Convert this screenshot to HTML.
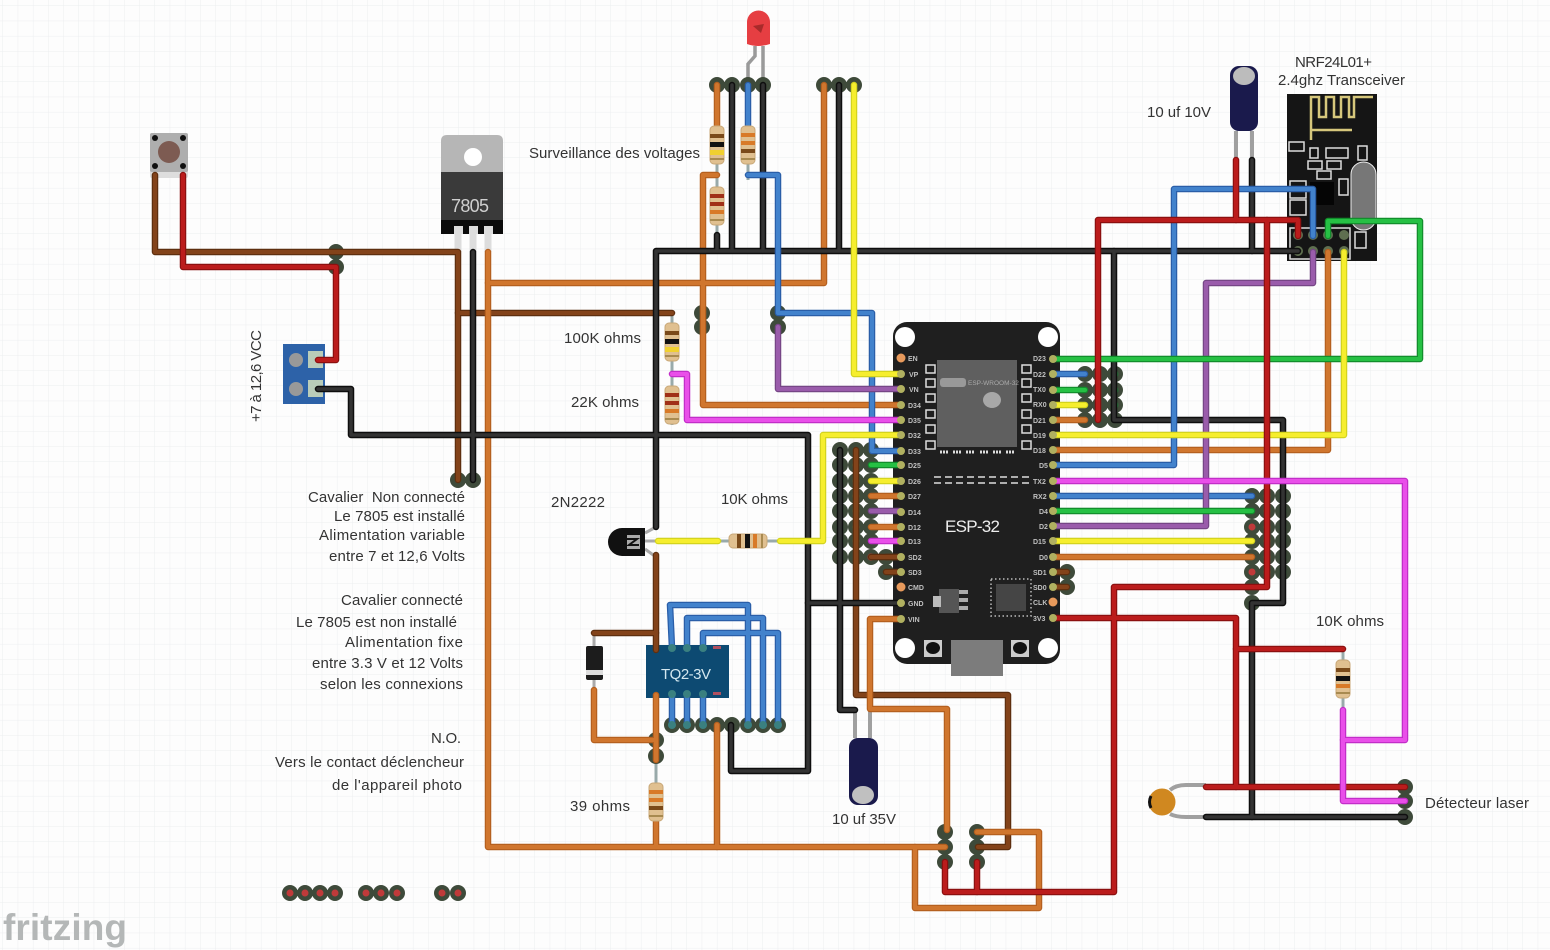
<!DOCTYPE html>
<html lang="fr"><head><meta charset="utf-8"><title>Fritzing ESP-32</title>
<style>
html,body{margin:0;padding:0;background:#fdfdfd}
svg{display:block}
text{font-family:"Liberation Sans",sans-serif;fill:#333;font-size:15px}
.pin text{font-size:7px;font-weight:bold;fill:#c0c0c0}
.dots{fill:none;stroke-linecap:round}
</style></head><body>
<svg width="1550" height="950" viewBox="0 0 1550 950" xmlns="http://www.w3.org/2000/svg">
<defs>
<pattern id="g" width="15.2" height="15.2" patternUnits="userSpaceOnUse" x="3" y="6"><path d="M15.2 0V15.2M0 15.2H15.2" fill="none" stroke="#eceef0" stroke-width="1"/></pattern>
<g id="brown"><path d="M155 175V252H458V480"/><path d="M458 313H672"/><path d="M856 450V695H1008V847H978"/><path d="M656 555V650"/><path d="M594 633H656"/><path d="M871 557H900"/><path d="M886 557H900"/><path d="M886 572H900"/><path d="M1055 572H1067"/><path d="M1055 587H1067"/></g>
<g id="red"><path d="M183 175V267H336V360H318"/><path d="M1098 420V220H1298V236"/><path d="M1236 160V220"/><path d="M1267 220V587H1114V892H945V862"/><path d="M977 862V892"/><path d="M1055 618H1236V787"/><path d="M1236 649H1343"/><path d="M1206 787H1405"/></g>
<g id="black"><path d="M318 389H351V435H808V771H731V725"/><path d="M473 252V480"/><path d="M656 527V251H1298"/><path d="M717 235V250"/><path d="M732 85V250"/><path d="M763 85V250"/><path d="M839 85V250"/><path d="M808 603H900"/><path d="M840 450V710H855"/><path d="M1252 160V251"/><path d="M1114 251V420H1283V603H1252V817"/><path d="M1206 817H1405"/></g>
<g id="orange"><path d="M488 252V847H945"/><path d="M488 283H824V85"/><path d="M717 85V125"/><path d="M717 175H703V405H900"/><path d="M900 619H870V709H947V830"/><path d="M594 690V740H656"/><path d="M656 695V760"/><path d="M717 725V847"/><path d="M656 815V847"/><path d="M977 832H1039V908H915V847"/><path d="M1055 420H1085"/><path d="M1055 450H1328V252"/><path d="M1055 557H1252"/><path d="M871 496H900"/><path d="M871 527H900"/></g>
<g id="blue"><path d="M748 85V125"/><path d="M748 175H778V313H872V451H900"/><path d="M672 648L670 605H748V725"/><path d="M687 648V618H763V725"/><path d="M703 648V633H778V725"/><path d="M672 695V725"/><path d="M687 695V725"/><path d="M703 695V725"/><path d="M1055 374H1085"/><path d="M1055 465H1174V189H1313V236"/><path d="M1055 496H1252"/></g>
<g id="green"><path d="M1055 359H1420V221H1328V236"/><path d="M1055 390H1085"/><path d="M1055 511H1252"/><path d="M871 465H900"/></g>
<g id="yellow"><path d="M854 85V374H900"/><path d="M658 541H718"/><path d="M780 541H823V435H900"/><path d="M1055 405H1085"/><path d="M1055 435H1344V252"/><path d="M1055 541H1252"/><path d="M871 481H900"/></g>
<g id="magenta"><path d="M672 374H687V420H900"/><path d="M1055 481H1405V740H1343"/><path d="M1343 710V801H1405"/><path d="M871 541H900"/></g>
<g id="purple"><path d="M778 327V389H900"/><path d="M1055 526H1206V283H1313V252"/><path d="M871 511H900"/></g>
<g id="res"><rect x="-7" y="-19" width="14" height="38" rx="4" fill="#e0c090" stroke="#c9a878"/><rect x="-7" y="-11" width="14" height="4" fill="#7a4a1a"/><rect x="-7" y="-3" width="14" height="5" fill="#111"/><rect x="-7" y="5" width="14" height="4" fill="#d87a28"/><rect x="-7" y="13" width="14" height="2" fill="#a88a50"/></g>
<g id="resy"><rect x="-7" y="-19" width="14" height="38" rx="4" fill="#e0c090" stroke="#c9a878"/><rect x="-7" y="-11" width="14" height="4" fill="#7a4a1a"/><rect x="-7" y="-3" width="14" height="5" fill="#111"/><rect x="-7" y="5" width="14" height="5" fill="#f0d030"/><rect x="-7" y="13" width="14" height="2" fill="#a88a50"/></g>
<g id="reso"><rect x="-7" y="-19" width="14" height="38" rx="4" fill="#e0c090" stroke="#c9a878"/><rect x="-7" y="-12" width="14" height="4" fill="#d87a28"/><rect x="-7" y="-4" width="14" height="4" fill="#d87a28"/><rect x="-7" y="4" width="14" height="4" fill="#7a4a1a"/><rect x="-7" y="13" width="14" height="2" fill="#a88a50"/></g>
<g id="res2"><rect x="-7" y="-19" width="14" height="38" rx="4" fill="#e0c090" stroke="#c9a878"/><rect x="-7" y="-12" width="14" height="4" fill="#a03018"/><rect x="-7" y="-4" width="14" height="4" fill="#a03018"/><rect x="-7" y="4" width="14" height="4" fill="#d87a28"/><rect x="-7" y="13" width="14" height="2" fill="#a88a50"/></g>
</defs>
<rect width="1550" height="950" fill="#fdfdfd"/>
<rect width="1550" height="950" fill="url(#g)"/>

<!-- ESP-32 board -->
<rect x="893" y="322" width="167" height="342" rx="14" fill="#1f1f1f"/>
<g fill="#fff"><circle cx="905" cy="337" r="10"/><circle cx="1048" cy="337" r="10"/><circle cx="905" cy="648" r="10"/><circle cx="1048" cy="648" r="10"/></g>
<rect x="937" y="360" width="80" height="87" fill="#5f5f5f"/>
<rect x="940" y="378" width="26" height="9" rx="3" fill="#999"/>
<text x="968" y="385" style="font-size:6.5px;fill:#aaa">ESP-WROOM-32</text>
<ellipse cx="992" cy="400" rx="9" ry="8" fill="#a8a8a8"/>
<g fill="none" stroke="#ddd" stroke-width="1.5">
<path d="M926 365h9v8h-9zM926 379h9v8h-9zM926 394h9v8h-9zM926 410h9v8h-9zM926 425h9v8h-9zM926 441h9v8h-9zM1022 365h9v8h-9zM1022 379h9v8h-9zM1022 394h9v8h-9zM1022 410h9v8h-9zM1022 425h9v8h-9zM1022 441h9v8h-9z"/>
<path d="M940 452h8M953 452h8M966 452h8M980 452h8M993 452h8M1006 452h8" stroke-width="3" stroke-dasharray="2 1"/>
<path d="M934 477H1030M934 483H1030" stroke-dasharray="7 4"/>
</g>
<rect x="939" y="589" width="20" height="24" fill="#555"/><rect x="933" y="596" width="8" height="11" fill="#bbb"/><path d="M959 592h9M959 600h9M959 608h9" stroke="#aaa" stroke-width="4"/>
<rect x="996" y="584" width="30" height="27" fill="#454545"/><rect x="991" y="579" width="40" height="37" fill="none" stroke="#bbb" stroke-dasharray="1.5 2.5" stroke-width="1.5"/>
<rect x="924" y="640" width="18" height="17" fill="#ccc"/><ellipse cx="933" cy="648" rx="7" ry="6" fill="#111"/>
<rect x="1011" y="640" width="18" height="17" fill="#ccc"/><ellipse cx="1020" cy="648" rx="7" ry="6" fill="#111"/>
<rect x="951" y="640" width="52" height="36" fill="#7c7c7c"/>
<text x="945" y="532" style="font-size:17px;fill:#eee" textLength="55">ESP-32</text>
<g class="pin">
<text x="908" y="361">EN</text><text x="909" y="377">VP</text><text x="909" y="392">VN</text><text x="908" y="408">D34</text><text x="908" y="423">D35</text><text x="908" y="438">D32</text><text x="908" y="454">D33</text><text x="908" y="468">D25</text><text x="908" y="484">D26</text><text x="908" y="499">D27</text><text x="908" y="515">D14</text><text x="908" y="530">D12</text><text x="908" y="544">D13</text><text x="908" y="560">SD2</text><text x="908" y="575">SD3</text><text x="908" y="590">CMD</text><text x="908" y="606">GND</text><text x="908" y="622">VIN</text>
<text x="1033" y="361">D23</text><text x="1033" y="377">D22</text><text x="1033" y="392">TX0</text><text x="1033" y="407">RX0</text><text x="1033" y="423">D21</text><text x="1033" y="438">D19</text><text x="1033" y="453">D18</text><text x="1039" y="468">D5</text><text x="1033" y="484">TX2</text><text x="1033" y="499">RX2</text><text x="1039" y="514">D4</text><text x="1039" y="529">D2</text><text x="1033" y="544">D15</text><text x="1039" y="560">D0</text><text x="1033" y="575">SD1</text><text x="1033" y="590">SD0</text><text x="1033" y="605">CLK</text><text x="1033" y="621">3V3</text>
</g>

<!-- NRF24 -->
<rect x="1287" y="94" width="90" height="167" fill="#151515"/>
<path d="M1311 140V97H1319V117H1326V97H1334V117H1341V97H1349V117H1354V97H1373M1311 130H1352" fill="none" stroke="#d6c77c" stroke-width="2.5"/>
<g fill="none" stroke="#ddd" stroke-width="1.5"><rect x="1289" y="142" width="15" height="9"/><rect x="1310" y="148" width="8" height="10"/><rect x="1326" y="148" width="22" height="10"/><rect x="1358" y="146" width="9" height="14"/><rect x="1308" y="161" width="14" height="8"/><rect x="1327" y="161" width="14" height="8"/><rect x="1317" y="171" width="14" height="8"/><rect x="1339" y="179" width="9" height="16"/><rect x="1290" y="181" width="16" height="17"/><rect x="1290" y="200" width="16" height="15"/><rect x="1355" y="232" width="11" height="16"/><rect x="1290" y="228" width="60" height="31"/></g>
<rect x="1310" y="182" width="24" height="23" fill="#050505"/>
<rect x="1351" y="162" width="25" height="68" rx="12.5" fill="#777" stroke="#eee"/>
<path class="dots" stroke="#5f6f50" stroke-width="10" d="M1298 235h0M1313 235h0M1328 235h0M1344 235h0M1298 251h0M1313 251h0M1328 251h0M1344 251h0"/>

<!-- Capacitors -->
<path d="M1236 131V158M1252 131V158M855 710V738M870 710V738" stroke="#a0a0a0" stroke-width="4" fill="none"/>
<rect x="1230" y="66" width="28" height="65" rx="9" fill="#1a1a4c"/><ellipse cx="1244" cy="76" rx="11" ry="9" fill="#bcbcbc"/>
<rect x="849" y="738" width="29" height="67" rx="9" fill="#1a1a4c"/><ellipse cx="863" cy="795" rx="11" ry="9" fill="#c0c0c0"/>

<!-- 7805 -->
<path d="M458 230V252M473 230V252M488 230V252" stroke="#ddd" stroke-width="7"/>
<path d="M441 172V141q0-6 6-6h50q6 0 6 6v31z" fill="#b6b6b6"/><circle cx="473" cy="157" r="9" fill="#fff"/>
<rect x="441" y="172" width="62" height="48" fill="#3a3a3a"/><rect x="441" y="220" width="62" height="14" fill="#0b0b0b"/>
<path d="M454 226h9v8h-9zM469 226h9v8h-9zM484 226h9v8h-9z" fill="#ddd"/>
<text x="451" y="212" style="font-size:18px;fill:#cfcfcf" textLength="38">7805</text>

<!-- Button -->
<rect x="150" y="133" width="38" height="45" rx="2" fill="#ddd"/><rect x="150" y="133" width="38" height="39" rx="2" fill="#aeaeae"/>
<circle cx="169" cy="152" r="11" fill="#7d5b52"/>
<g fill="#111"><circle cx="155" cy="138" r="3"/><circle cx="183" cy="138" r="3"/><circle cx="155" cy="166" r="3"/><circle cx="183" cy="166" r="3"/></g>

<!-- Terminal -->
<rect x="283" y="344" width="42" height="60" fill="#2d62a8"/>
<circle cx="296" cy="360" r="7" fill="#999"/><circle cx="296" cy="389" r="7" fill="#999"/>
<rect x="308" y="351" width="15" height="17" fill="#b9ccb9"/><rect x="308" y="380" width="15" height="17" fill="#b9ccb9"/>

<!-- LED -->
<path d="M755 46V56L748 64V85M763 46V85" fill="none" stroke="#9a9a9a" stroke-width="3.5"/>
<path d="M747 44V22a11.500 11.500 0 0 1 23 0V44q-12 4-23 0z" fill="#e63e42"/><path d="M753 26l11-2-3 9z" fill="#a82a2a"/>

<!-- Transistor / leads -->
<path d="M645 533L656 527M645 541H658M645 549L656 557" fill="none" stroke="#aaa" stroke-width="3"/>
<path d="M645 528H622a14 14 0 0 0 0 28H645z" fill="#111"/><rect x="627" y="535" width="13" height="14" fill="#aaa"/>
<path d="M625 539h12l-8 6h10" fill="none" stroke="#111" stroke-width="2"/>

<!-- Diode -->
<path d="M594 633V690" stroke="#aaa" stroke-width="3"/>
<rect x="586" y="646" width="17" height="34" rx="2" fill="#1c1c1c"/><rect x="586" y="670" width="17" height="5" fill="#ddd"/>

<!-- Resistor leads -->
<path d="M717 115V235M748 115V180M672 313V425M656 760V826M1343 649V712" fill="none" stroke="#9aa" stroke-width="3"/>
<path d="M708 541H780" stroke="#9aa" stroke-width="3"/>

<!-- Header pads -->
<path class="dots" stroke="#3e4a3a" stroke-width="16" d="M336 252h0M336 267h0M458 480h0M473 480h0M702 313h0M702 327h0M778 313h0M778 327h0M717 85h0M732 85h0M748 85h0M763 85h0M824 85h0M839 85h0M854 85h0
M840 450h0M840 465h0M840 481h0M840 496h0M840 511h0M840 527h0M840 541h0M840 557h0M856 450h0M856 465h0M856 481h0M856 496h0M856 511h0M856 527h0M856 541h0M856 557h0M871 450h0M871 465h0M871 481h0M871 496h0M871 511h0M871 527h0M871 541h0M871 557h0M886 557h0M886 572h0
M1085 374h0M1085 390h0M1085 405h0M1085 420h0M1100 374h0M1100 390h0M1100 405h0M1100 420h0M1115 374h0M1115 390h0M1115 405h0M1115 420h0
M1252 496h0M1252 511h0M1252 527h0M1252 541h0M1252 557h0M1252 572h0M1252 587h0M1252 603h0M1267 496h0M1267 511h0M1267 527h0M1267 541h0M1267 557h0M1267 572h0M1283 496h0M1283 511h0M1283 527h0M1283 541h0M1283 557h0M1283 572h0M1067 572h0M1067 587h0
M656 740h0M656 756h0M672 725h0M687 725h0M703 725h0M717 725h0M732 725h0M748 725h0M763 725h0M778 725h0
M945 832h0M945 847h0M945 862h0M977 832h0M977 847h0M977 862h0M1405 787h0M1405 801h0M1405 817h0
M290 893h0M305 893h0M320 893h0M335 893h0M366 893h0M381 893h0M397 893h0M442 893h0M458 893h0"/>
<path class="dots" stroke="#2a6f3c" stroke-width="7" d="M840 465h0M840 481h0M840 496h0M840 511h0M840 527h0M840 541h0M840 557h0M1283 496h0M1283 511h0M1283 527h0M1283 541h0M1283 557h0M1283 572h0M1115 374h0M1115 390h0M1115 405h0"/>
<path class="dots" stroke="#6a6a2a" stroke-width="7" d="M856 465h0M856 481h0M856 496h0M856 511h0M856 527h0M856 541h0M1267 496h0M1267 511h0M1267 527h0M1267 541h0M1267 557h0M1267 572h0"/>
<path class="dots" stroke="#c03a3a" stroke-width="7" d="M290 893h0M305 893h0M320 893h0M335 893h0M366 893h0M381 893h0M397 893h0M442 893h0M458 893h0M871 557h0M1252 527h0M1252 572h0"/>

<!-- TQ2 body under wires -->
<rect x="646" y="645" width="83" height="53" fill="#0d4a72"/>
<rect x="713" y="646" width="8" height="3" fill="#b05060"/><rect x="713" y="692" width="8" height="3" fill="#b05060"/>

<!-- Laser detector -->
<path d="M1170 790Q1176 785 1186 785H1206M1170 814Q1176 817 1186 817H1206" fill="none" stroke="#a0a0a0" stroke-width="4"/>
<circle cx="1162" cy="802" r="13.500" fill="#d08820"/><path d="M1151 796q-3 6 0 12" stroke="#111" stroke-width="3" fill="none"/>

<!-- Wires -->
<g fill="none" stroke-linejoin="round" stroke-linecap="round">
<use href="#brown" stroke="#5e2f0f" stroke-width="6.500"/><use href="#brown" stroke="#83431a" stroke-width="4"/>
<use href="#orange" stroke="#b5601f" stroke-width="6.500"/><use href="#orange" stroke="#d0762e" stroke-width="4"/>
<use href="#black" stroke="#0e0e0e" stroke-width="6.500"/><use href="#black" stroke="#333" stroke-width="3.500"/>
<use href="#blue" stroke="#2a5ea8" stroke-width="6.500"/><use href="#blue" stroke="#4282cc" stroke-width="4"/>
<use href="#purple" stroke="#764686" stroke-width="6.500"/><use href="#purple" stroke="#9a5cab" stroke-width="4"/>
<use href="#green" stroke="#128e2c" stroke-width="6.500"/><use href="#green" stroke="#26c044" stroke-width="4"/>
<use href="#yellow" stroke="#d4d41e" stroke-width="6.500"/><use href="#yellow" stroke="#f6ee2e" stroke-width="4"/>
<use href="#red" stroke="#8c1010" stroke-width="6.500"/><use href="#red" stroke="#bb1c1c" stroke-width="4"/>
<use href="#magenta" stroke="#c22ec8" stroke-width="6.500"/><use href="#magenta" stroke="#e94fe9" stroke-width="4"/>
</g>

<!-- Pin dots -->
<path class="dots" stroke="#b0b060" stroke-width="8" d="M901 374h0M901 389h0M901 405h0M901 420h0M901 435h0M901 451h0M901 465h0M901 481h0M901 496h0M901 512h0M901 527h0M901 541h0M901 557h0M901 572h0M901 603h0M901 619h0M1053 359h0M1053 374h0M1053 390h0M1053 405h0M1053 420h0M1053 435h0M1053 450h0M1053 465h0M1053 481h0M1053 496h0M1053 511h0M1053 526h0M1053 541h0M1053 557h0M1053 572h0M1053 587h0M1053 618h0"/>
<path class="dots" stroke="#e89a5c" stroke-width="9" d="M901 358h0M901 587h0M1053 602h0"/>
<path class="dots" stroke="#3a8080" stroke-width="8" d="M672 648h0M687 648h0M703 648h0M672 694h0M687 694h0M703 694h0M672 725h0M687 725h0M703 725h0M748 725h0M763 725h0M778 725h0"/>

<!-- Resistors -->
<use href="#resy" x="717" y="145"/><use href="#reso" x="748" y="145"/><use href="#res2" x="717" y="206"/>
<use href="#resy" x="672" y="342"/><use href="#res2" x="672" y="405"/><use href="#reso" x="656" y="802"/><use href="#res" x="1343" y="679"/>
<use href="#res" transform="translate(748 541) rotate(-90)"/>

<!-- Labels -->
<text x="661" y="679" style="font-size:15px;fill:#d4e8f0" textLength="50">TQ2-3V</text>
<text x="529" y="158" textLength="171">Surveillance des voltages</text>
<text x="1295" y="67" textLength="77">NRF24L01+</text>
<text x="1278" y="85" textLength="127">2.4ghz Transceiver</text>
<text x="1147" y="117" textLength="64">10 uf 10V</text>
<text transform="translate(261 422) rotate(-90)" textLength="92">+7 à 12,6 VCC</text>
<text x="564" y="343" textLength="77">100K ohms</text>
<text x="571" y="407" textLength="68">22K ohms</text>
<text x="551" y="507" textLength="54">2N2222</text>
<text x="721" y="504" textLength="67">10K ohms</text>
<text x="308" y="502" textLength="157" xml:space="preserve">Cavalier  Non connecté</text>
<text x="334" y="521" textLength="131">Le 7805 est installé</text>
<text x="319" y="540" textLength="146">Alimentation variable</text>
<text x="329" y="561" textLength="136">entre 7 et 12,6 Volts</text>
<text x="341" y="605" textLength="122">Cavalier connecté</text>
<text x="296" y="627" textLength="161">Le 7805 est non installé</text>
<text x="345" y="647" textLength="118">Alimentation fixe</text>
<text x="312" y="668" textLength="151">entre 3.3 V et 12 Volts</text>
<text x="320" y="689" textLength="143">selon les connexions</text>
<text x="431" y="743" textLength="30">N.O.</text>
<text x="275" y="767" textLength="189">Vers le contact déclencheur</text>
<text x="332" y="790" textLength="130">de l'appareil photo</text>
<text x="570" y="811" textLength="60">39 ohms</text>
<text x="832" y="824" textLength="64">10 uf 35V</text>
<text x="1316" y="626" textLength="68">10K ohms</text>
<text x="1425" y="808" textLength="104">Détecteur laser</text>
<text x="3" y="940" style="font-size:37px;font-weight:bold;fill:#b4b7b7;letter-spacing:1px" textLength="125">fritzing</text>
</svg>
</body></html>
